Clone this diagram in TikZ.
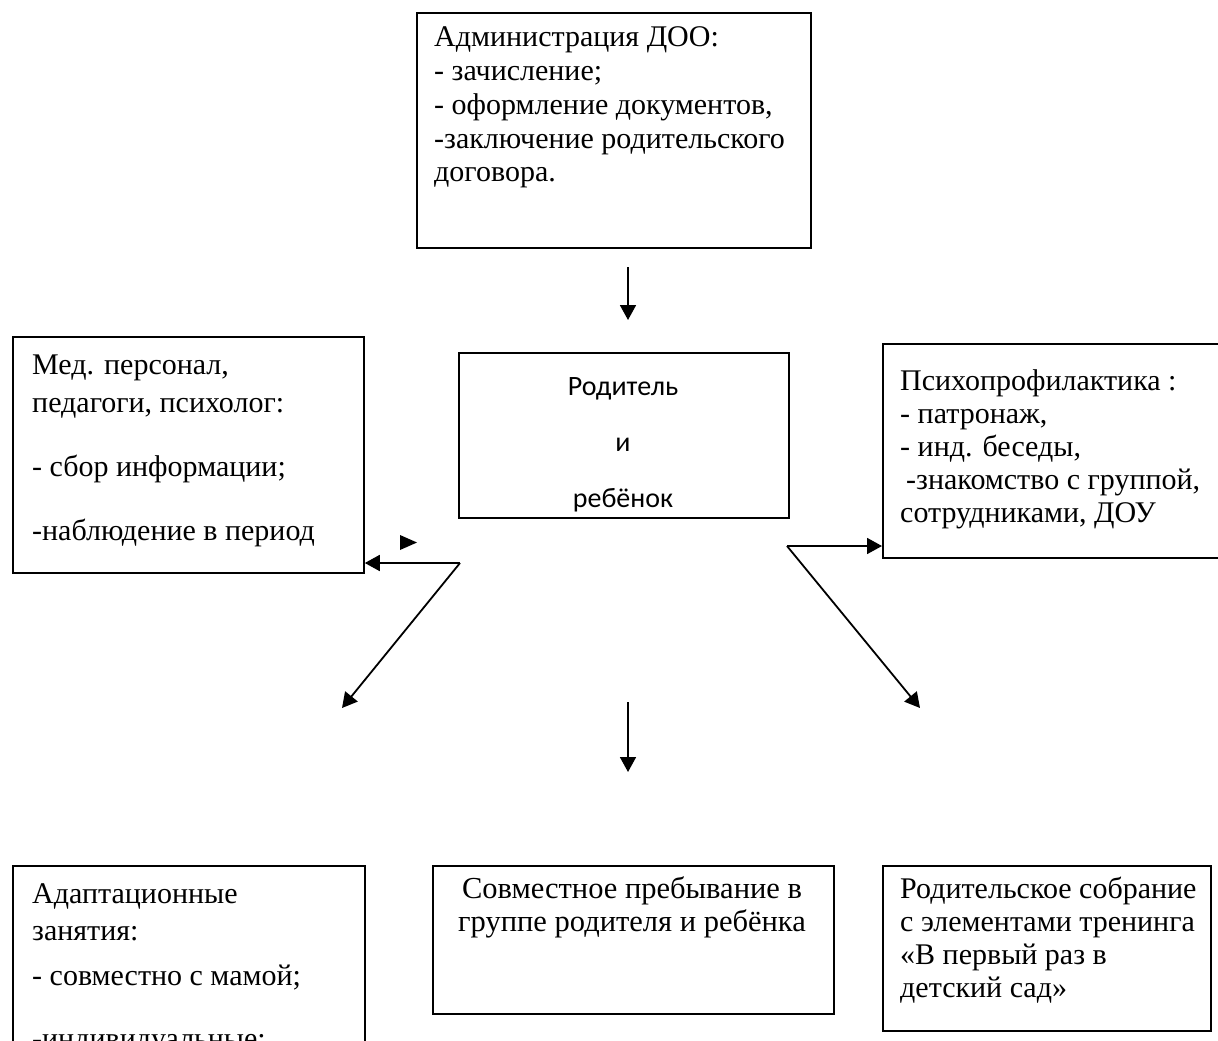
\documentclass[tikz,border=0pt]{standalone}
\usepackage{fontspec}
\setmainfont{Liberation Serif}
\newfontfamily\calib{Carlito}
\usetikzlibrary{arrows.meta}
\tikzset{
  box/.style={draw=black, line width=1.8pt, inner sep=0pt, anchor=north west},
  ln/.style={anchor=base west, inner sep=0pt, font=\fontsize{30}{34}\selectfont},
  lc/.style={anchor=base, inner sep=0pt, font=\fontsize{30.5}{34}\selectfont},
  cl/.style={anchor=base, inner sep=0pt, font=\calib\fontsize{28}{32}\selectfont},
  conn/.style={line width=1.8pt, -{Triangle[length=15pt,width=16pt]}},
}
\begin{document}
\begin{tikzpicture}[x=1pt,y=-1pt]
\clip (0,0) rectangle (1218,1041);
\fill[white] (0,0) rectangle (1218,1041);
% boxes
\node[box, minimum width=394pt, minimum height=235pt] (adm) at (416,12) {};
\node[box, minimum width=330pt, minimum height=165pt] (ctr) at (458,352) {};
\node[box, minimum width=351pt, minimum height=236pt] (med) at (12,336) {};
\node[box, minimum width=360pt, minimum height=214pt] (psy) at (882,343) {};
\node[box, minimum width=352pt, minimum height=200pt] (ada) at (12,865) {};
\node[box, minimum width=401pt, minimum height=148pt] (sov) at (432,865) {};
\node[box, minimum width=328pt, minimum height=165pt] (rod) at (882,865) {};
% admin text
\node[ln] (a1) at (434,47) {Администрация ДОО:};
\node[ln] (a2) at (434,81) {- зачисление;};
\node[ln] (a3) at (434,114) {- оформление документов,};
\node[ln] (a4) at (434,148) {-заключение родительского};
\node[ln] (a5) at (434,181) {договора.};
% center text
\node[cl] (c1) at (623,395) {Родитель};
\node[cl] (c2) at (623,451) {и};
\node[cl] (c3) at (623,507) {ребёнок};
% med text
\node[ln] (m1) at (32,374) {Мед. персонал,};
\node[ln] (m2) at (32,412) {педагоги, психолог:};
\node[ln] (m3) at (32,476) {- сбор информации;};
\node[ln] (m4) at (32,540) {-наблюдение в период};
% psy text
\node[ln] (p1) at (900,390) {Психопрофилактика :};
\node[ln] (p2) at (900,423) {- патронаж,};
\node[ln] (p3) at (900,456) {- инд. беседы,};
\node[ln] (p4) at (906,489) {-знакомство с группой,};
\node[ln] (p5) at (900,522) {сотрудниками, ДОУ};
% bottom left text
\node[ln] (b1) at (32,903) {Адаптационные};
\node[ln] (b2) at (32,940) {занятия:};
\node[ln] (b3) at (32,985) {- совместно с мамой;};
\node[ln] (b4) at (32,1048) {-индивидуальные;};
% bottom center
\node[lc] (s1) at (632,898) {Совместное пребывание в};
\node[lc] (s2) at (632,931) {группе родителя и ребёнка};
% bottom right
\node[ln] (r1) at (900,898) {Родительское собрание};
\node[ln] (r2) at (900,931) {с элементами тренинга};
\node[ln] (r3) at (900,964) {«В первый раз в};
\node[ln] (r4) at (900,997) {детский сад»};
% connector coordinates
\coordinate (t0) at (628,267);
\coordinate (t1) at (628,320);
\coordinate (v0) at (628,702);
\coordinate (v1) at (628,772);
\coordinate (lj) at (460,563);
\coordinate (ld) at (342,708);
\coordinate (rj) at (787,546);
\coordinate (rd) at (920,708);
% connectors
\draw[conn] (t0) -- (t1);
\draw[conn] (v0) -- (v1);
\draw[conn] (lj) -- (lj -| med.east);
\draw[conn] (lj) -- (ld);
\draw[conn] (rj) -- (rj -| psy.west);
\draw[conn] (rj) -- (rd);
% lone arrowhead
\fill (400,535) -- (417,542.5) -- (400,550) -- cycle;
\end{tikzpicture}
\end{document}
